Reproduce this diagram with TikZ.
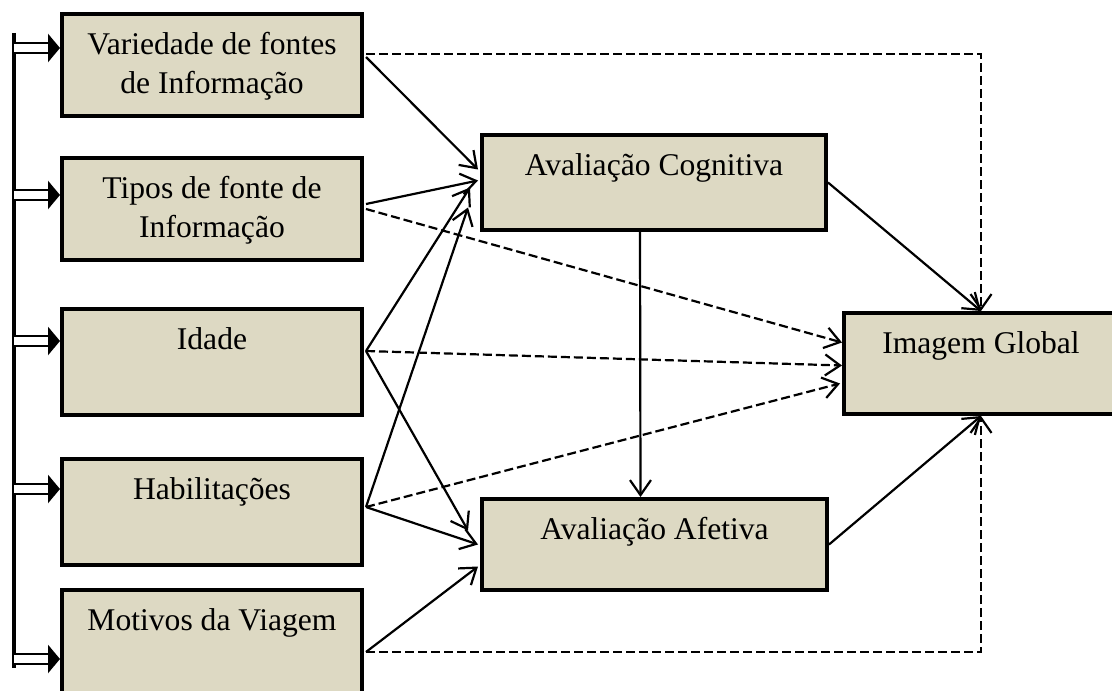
\documentclass[tikz,border=0pt]{standalone}
\usepackage{fontspec}
\setmainfont{Liberation Serif}
\usetikzlibrary{arrows.meta, calc}
\definecolor{boxfill}{RGB}{221,217,195}

\begin{document}
\begin{tikzpicture}[x=0.5pt, y=-0.5pt,
	box/.style={draw, fill=boxfill, line width=2pt, anchor=north west, inner sep=0pt},
	boxtext/.style={anchor=north, inner sep=0pt, align=center, font=\fontsize{15.8}{19.5}\selectfont},
	arr/.style={line width=1.1pt, -{Straight Barb[length=7.5pt, width=10.5pt]}},
	dasharr/.style={arr, dash pattern=on 4.5pt off 2pt},
	dblarrow/.style={double, line width=1.4pt, double distance=3.6pt, -{Triangle[length=6pt, width=14pt]}}
	]
		\useasboundingbox (0,0) rectangle (1112,690);
		\node [box, minimum width=150pt, minimum height=51pt] (vari) at (60,12) {};
		\node [box, minimum width=150pt, minimum height=51pt] (tipos) at (60,156) {};
		\node [box, minimum width=150pt, minimum height=53pt] (idade) at (60,307) {};
		\node [box, minimum width=150pt, minimum height=53pt] (habil) at (60,457) {};
		\node [box, minimum width=150pt, minimum height=53pt] (motiv) at (60,588) {};
		\node [box, minimum width=172pt, minimum height=47.5pt] (cog) at (480,133) {};
		\node [box, minimum width=172.5pt, minimum height=45.5pt] (afet) at (480,497) {};
		\node [box, minimum width=137pt, minimum height=50.5pt] (imag) at (842,311) {};
		\node [boxtext] (varitext) at ([yshift=-10pt]vari.north) {Variedade de fontes\\de Informação};
		\node [boxtext] (tipostext) at ([yshift=-10pt]tipos.north) {Tipos de fonte de\\Informação};
		\node [boxtext] (idadetext) at ([yshift=-10pt]idade.north) {Idade};
		\node [boxtext] (habiltext) at ([yshift=-10pt]habil.north) {Habilitações};
		\node [boxtext] (motivtext) at ([yshift=-10pt]motiv.north) {Motivos da Viagem};
		\node [boxtext] (cogtext) at ([yshift=-10pt]cog.north) {Avaliação Cognitiva};
		\node [boxtext] (afettext) at ([yshift=-10pt]afet.north) {Avaliação Afetiva};
		\node [boxtext] (imagtext) at ([yshift=-10pt]imag.north) {Imagem Global};

		\coordinate (bartop) at (14,33);
		\coordinate (barbot) at (14,668);
		\draw [line width=2pt] (bartop) -- (barbot);
		\coordinate (variin) at ($(vari.west)+(0,-17)$);
		\coordinate (tiposin) at ($(tipos.west)+(0,-14)$);
		\coordinate (idadein) at ($(idade.west)+(0,-21)$);
		\coordinate (habilin) at ($(habil.west)+(0,-23)$);
		\coordinate (motivin) at ($(motiv.west)+(0,16)$);
		\draw [dblarrow] (bartop |- variin) -- (variin);
		\draw [dblarrow] (bartop |- tiposin) -- (tiposin);
		\draw [dblarrow] (bartop |- idadein) -- (idadein);
		\draw [dblarrow] (bartop |- habilin) -- (habilin);
		\draw [dblarrow] (bartop |- motivin) -- (motivin);

		\draw [arr] ($(vari.east)+(2,-8)$) -- ($(cog.west)+(-2,-13)$);
		\draw [arr] ($(tipos.east)+(2,-5)$) -- ($(cog.west)+(-2,-2)$);
		\draw [arr] ($(idade.east)+(2,-11)$) -- ($(cog.west)+(-10,5)$);
		\draw [arr] ($(habil.east)+(2,-5)$) -- ($(cog.west)+(-12,25)$);
		\draw [arr] ($(idade.east)+(2,-11)$) -- ($(afet.west)+(-12,-14)$);
		\draw [arr] ($(habil.east)+(2,-5)$) -- ($(afet.west)+(-2,0)$);
		\draw [arr] ($(motiv.east)+(2,9)$) -- ($(afet.west)+(-2,22)$);
		\draw [arr] ($(cog.south)+(-14,0)$) -- ($(afet.north)+(-14,0)$);
		\draw [arr] (cog.east) -- (imag.north);
		\draw [arr] (afet.east) -- (imag.south);

		\draw [dasharr] ($(vari.east)+(2,-11)$) -| (imag.north);
		\draw [dasharr] ($(tipos.east)+(2,0)$) -- ($(imag.west)+(0,-21)$);
		\draw [dasharr] ($(idade.east)+(2,-11)$) -- ($(imag.west)+(0,2)$);
		\draw [dasharr] ($(habil.east)+(2,-5)$) -- ($(imag.west)+(-2,20)$);
		\draw [dasharr] ($(motiv.east)+(2,9)$) -| (imag.south);
\end{tikzpicture}
\end{document}
